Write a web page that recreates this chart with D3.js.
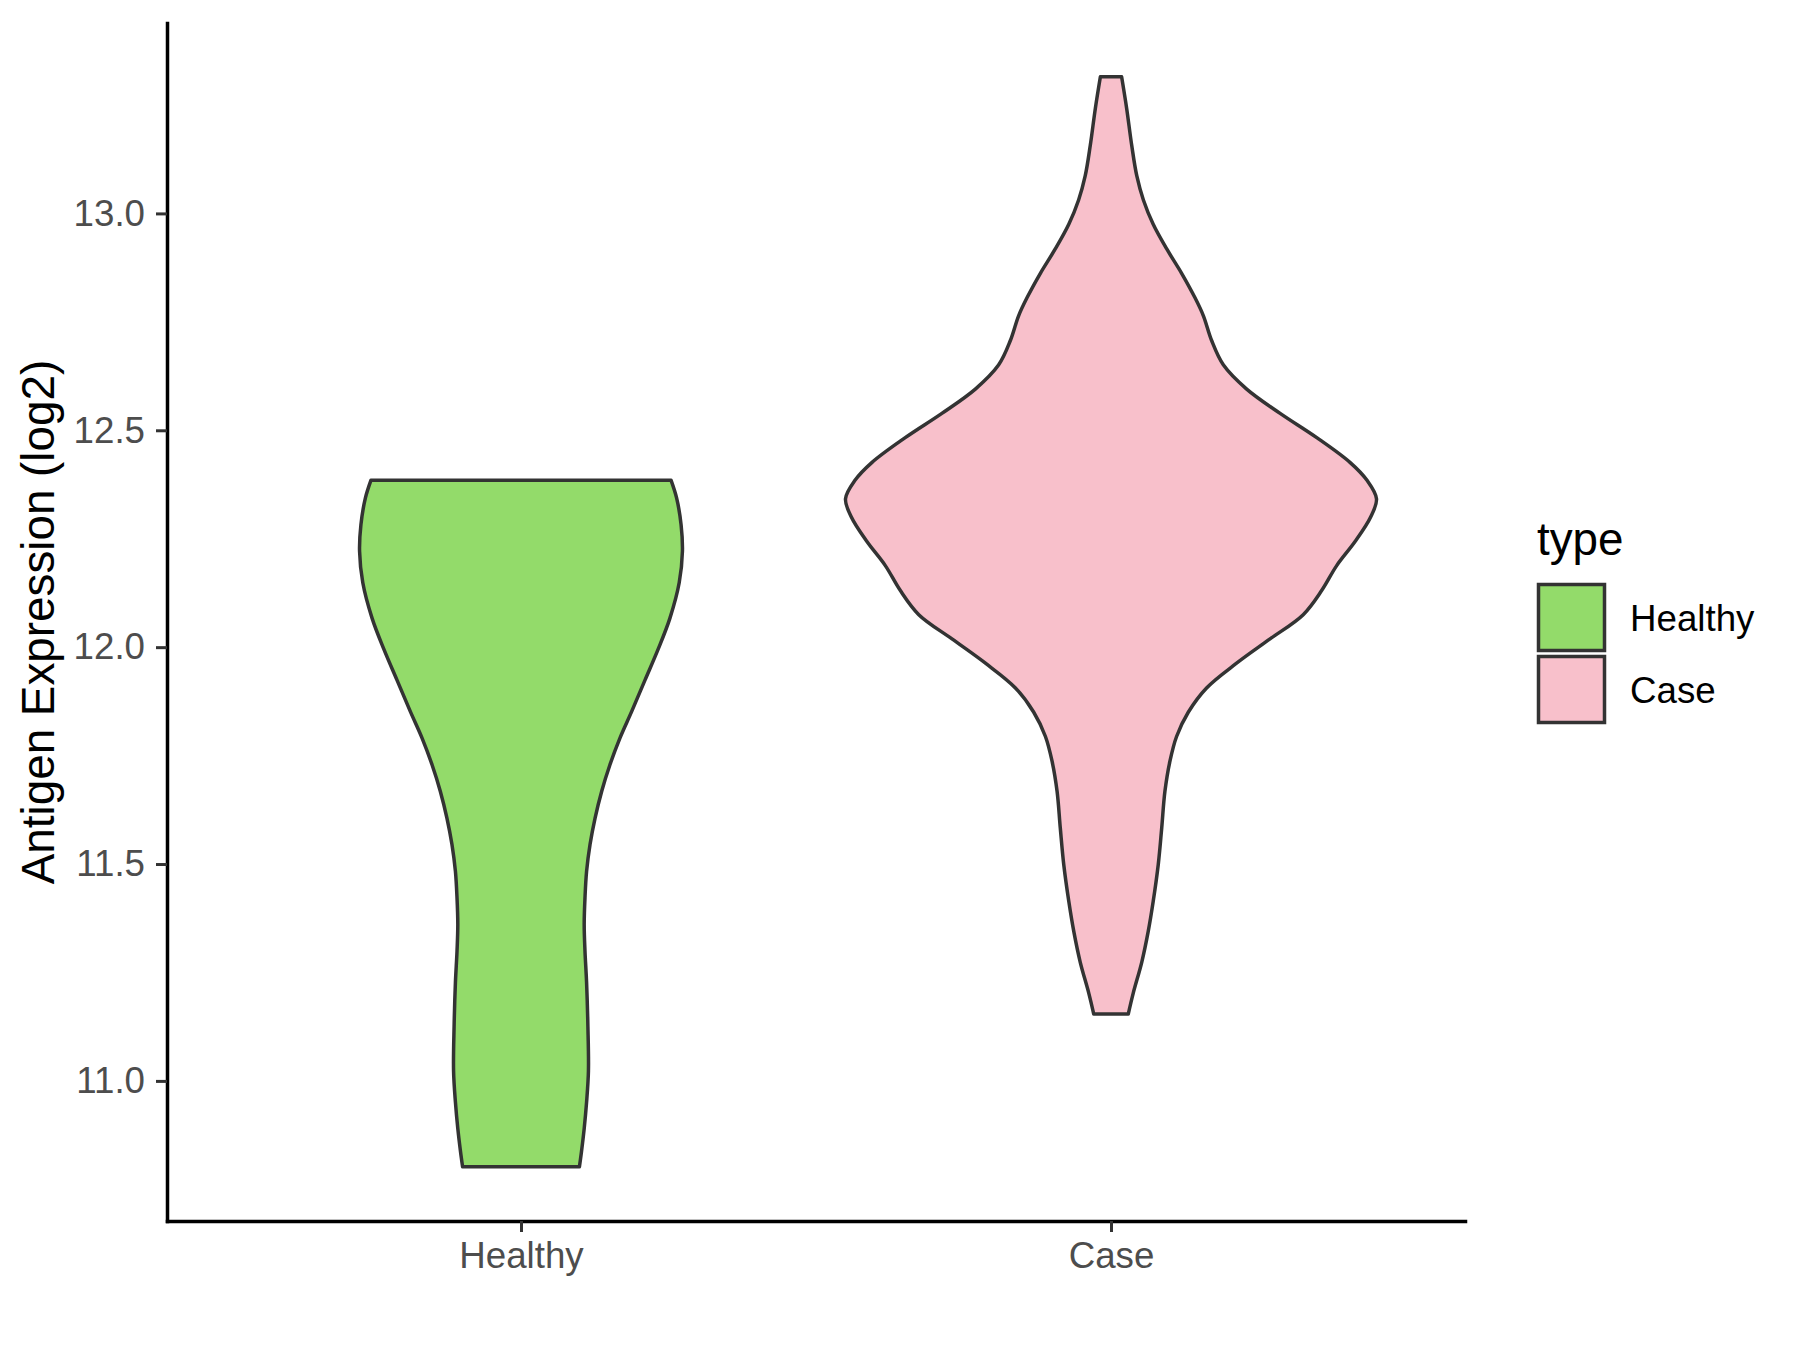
<!DOCTYPE html>
<html>
<head>
<meta charset="utf-8">
<script src="https://cdn.jsdelivr.net/npm/d3@7"></script>
<style>
  body { margin: 0; background: #fff; }
  svg text { font-family: "Liberation Sans", Arial, sans-serif; }
</style>
</head>
<body>
<svg id="chart" width="1800" height="1350"></svg>
<script>
// categories and colours
var categories = ["Healthy", "Case"];
var fills = ["#93DB6A", "#F8C0CB"];

// y tick values
var yTicks = [11.0, 11.5, 12.0, 12.5, 13.0];

// violin outlines: value and relative density (1 = widest)
var healthyValues = [12.385, 12.344, 12.282, 12.221, 12.149, 12.067, 11.996, 11.924, 11.852, 11.791,
                     11.729, 11.668, 11.606, 11.545, 11.483, 11.422, 11.361, 11.299, 11.227, 11.125,
                     11.023, 10.951, 10.890, 10.838, 10.802];
var healthyDensity = [0.565, 0.586, 0.603, 0.608, 0.596, 0.561, 0.517, 0.467, 0.417, 0.373,
                      0.335, 0.304, 0.279, 0.260, 0.247, 0.241, 0.238, 0.241, 0.247, 0.252,
                      0.254, 0.247, 0.238, 0.228, 0.220];

var caseValues = [13.315, 13.242, 13.157, 13.087, 13.031, 12.975, 12.918, 12.862, 12.806, 12.764,
                  12.707, 12.651, 12.595, 12.539, 12.483, 12.426, 12.384, 12.342, 12.300, 12.244,
                  12.188, 12.131, 12.075, 12.019, 11.963, 11.906, 11.850, 11.794, 11.737, 11.667,
                  11.583, 11.499, 11.414, 11.344, 11.274, 11.203, 11.154];
var caseDensity = [0.040, 0.059, 0.078, 0.097, 0.122, 0.159, 0.210, 0.266, 0.316, 0.348,
                   0.379, 0.423, 0.511, 0.637, 0.775, 0.900, 0.965, 1.000, 0.978, 0.920,
                   0.850, 0.794, 0.724, 0.599, 0.473, 0.360, 0.291, 0.247, 0.222, 0.203,
                   0.191, 0.178, 0.159, 0.140, 0.116, 0.084, 0.065];

var violins = [
  {name: "Healthy", values: healthyValues, density: healthyDensity},
  {name: "Case", values: caseValues, density: caseDensity}
];

// set the dimensions and margins of the graph
var margin = {top: 23, right: 335, bottom: 129, left: 167},
    width = 1800 - margin.left - margin.right,
    height = 1350 - margin.top - margin.bottom;

// set the ranges
var x = d3.scalePoint().domain(categories).range([0, width]).padding(0.6);
var y = d3.scaleLinear().domain([10.677, 13.439]).range([height, 0]);
var w = d3.scaleLinear().domain([0, 1]).range([0, 0.45 * x.step()]);
var color = d3.scaleOrdinal().domain(categories).range(fills);

var svg = d3.select("#chart")
  .append("g")
    .attr("transform", "translate(" + margin.left + "," + margin.top + ")");

// violins
svg.selectAll(".violin")
    .data(violins)
  .enter().append("path")
    .attr("class", "violin")
    .attr("d", function(v) {
      var pts = v.values.map(function(val, i) { return {v: val, d: v.density[i]}; });
      var cx = x(v.name);
      return d3.area()
          .y(function(p) { return y(p.v); })
          .x0(function(p) { return cx - w(p.d); })
          .x1(function(p) { return cx + w(p.d); })
          .curve(d3.curveCatmullRom)(pts);
    })
    .style("fill", function(v) { return color(v.name); })
    .style("stroke", "#333333")
    .style("stroke-width", 3.5)
    .style("stroke-linejoin", "round");

// Add the X Axis
var xAxis = svg.append("g")
    .attr("transform", "translate(0," + height + ")")
    .call(d3.axisBottom(x).tickSize(11).tickSizeOuter(0).tickPadding(10));

// Add the Y Axis
var yAxis = svg.append("g")
    .call(d3.axisLeft(y).tickValues(yTicks).tickFormat(d3.format(".1f"))
      .tickSize(11).tickSizeOuter(0).tickPadding(11));

[xAxis, yAxis].forEach(function(a) {
  a.select(".domain")
      .style("stroke", "#000")
      .style("stroke-width", 3.5)
      .style("stroke-linecap", "square");
  a.selectAll(".tick line")
      .style("stroke", "#333333")
      .style("stroke-width", 3);
  a.selectAll(".tick text")
      .style("fill", "#4D4D4D")
      .style("font-size", "36.7px")
      .style("font-family", "'Liberation Sans', Arial, sans-serif");
});

// y axis title
d3.select("#chart").append("text")
    .attr("transform", "translate(54," + (margin.top + height / 2) + ") rotate(-90)")
    .attr("text-anchor", "middle")
    .style("font-size", "45.8px")
    .style("fill", "#000")
    .text("Antigen Expression (log2)");

// legend
var legend = d3.select("#chart").append("g")
    .attr("transform", "translate(1537,555)");

legend.append("text")
    .attr("x", 0)
    .attr("y", 0)
    .style("font-size", "45.8px")
    .style("fill", "#000")
    .text("type");

var keys = legend.selectAll(".key")
    .data(categories)
  .enter().append("g")
    .attr("class", "key")
    .attr("transform", function(d, i) { return "translate(0," + (25 + i * 72) + ")"; });

keys.append("rect")
    .attr("x", 1.5)
    .attr("y", 4.5)
    .attr("width", 66)
    .attr("height", 66)
    .style("fill", function(d) { return color(d); })
    .style("stroke", "#333333")
    .style("stroke-width", 3.5);

keys.append("text")
    .attr("x", 93)
    .attr("y", 37.5)
    .attr("dy", "0.36em")
    .style("font-size", "36.7px")
    .style("fill", "#000")
    .text(function(d) { return d; });
</script>
</body>
</html>
